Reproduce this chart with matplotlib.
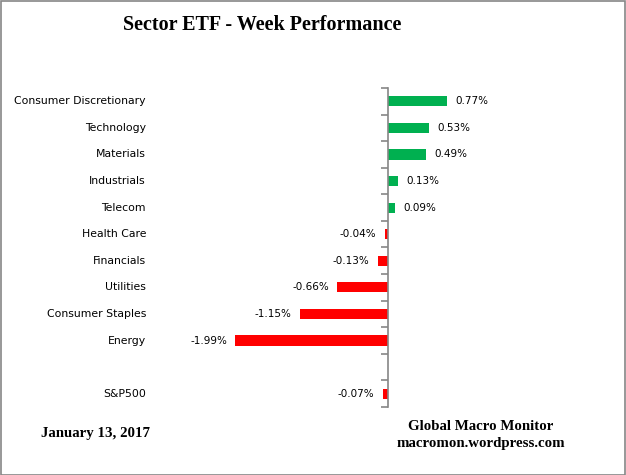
import numpy as np
import matplotlib.pyplot as plt
from matplotlib.patches import Rectangle
from matplotlib.transforms import blended_transform_factory

# data
sectors = ['Consumer Discretionary', 'Technology', 'Materials', 'Industrials',
           'Telecom', 'Health Care', 'Financials', 'Utilities',
           'Consumer Staples', 'Energy', '', 'S&P500']
perf = [0.77, 0.53, 0.49, 0.13, 0.09, -0.04, -0.13, -0.66, -1.15, -1.99, np.nan, -0.07]

GREEN = '#00B050'
RED = '#FF0000'
GREY = '#868686'

fig = plt.figure(figsize=(6.26, 4.75), dpi=100)
ax = fig.add_axes([158/626, 1-407/475, 345/626, (407-88)/475])

y = np.arange(len(sectors))
vals = np.array(perf, dtype=float)
colors = [GREEN if v >= 0 else RED for v in np.nan_to_num(vals)]
ax.barh(y, np.nan_to_num(vals), height=0.38, color=colors)

ax.set_xlim(-3.0, 1.5)
ax.set_ylim(len(sectors)-0.5, -0.5)

# only the zero axis line
for s in ['top', 'right', 'bottom']:
    ax.spines[s].set_visible(False)
ax.spines['left'].set_position(('data', 0))
ax.spines['left'].set_color(GREY)
ax.spines['left'].set_linewidth(1.2)
ax.set_xticks([])
ax.set_yticks(np.arange(len(sectors)+1) - 0.5)
ax.set_yticklabels([])
ax.tick_params(axis='y', direction='out', length=5, color=GREY, width=1.2)

# category labels
trans = blended_transform_factory(fig.transFigure, ax.transData)
for i, name in enumerate(sectors):
    if name:
        ax.text(146/626, i, name, transform=trans, ha='right', va='center',
                fontsize=7.8, family='DejaVu Sans')

# value labels
for i, v in enumerate(vals):
    if np.isnan(v):
        continue
    if v >= 0:
        ax.annotate(f'{v:.2f}%', (v, i), xytext=(6, 0), textcoords='offset points',
                    ha='left', va='center', fontsize=7.5)
    else:
        ax.annotate(f'{v:.2f}%', (v, i), xytext=(-6, 0), textcoords='offset points',
                    ha='right', va='center', fontsize=7.5)

fig.text(262/626, 1-25/475, 'Sector ETF - Week Performance', ha='center', va='center',
         fontsize=14.5, fontweight='bold', family='Liberation Serif')
fig.text(41/626, 1-434/475, 'January 13, 2017', ha='left', va='center',
         fontsize=10.7, fontweight='bold', family='Liberation Serif')
fig.text(481/626, 1-427/475, 'Global Macro Monitor', ha='center', va='center',
         fontsize=10.7, fontweight='bold', family='Liberation Serif')
fig.text(481/626, 1-443/475, 'macromon.wordpress.com', ha='center', va='center',
         fontsize=10.7, fontweight='bold', family='Liberation Serif')

fig.patches.append(Rectangle((0.001, 0.001), 0.997, 0.997, transform=fig.transFigure,
                             fill=False, edgecolor=GREY, linewidth=1.2))

fig.savefig('out.png', dpi=100)
